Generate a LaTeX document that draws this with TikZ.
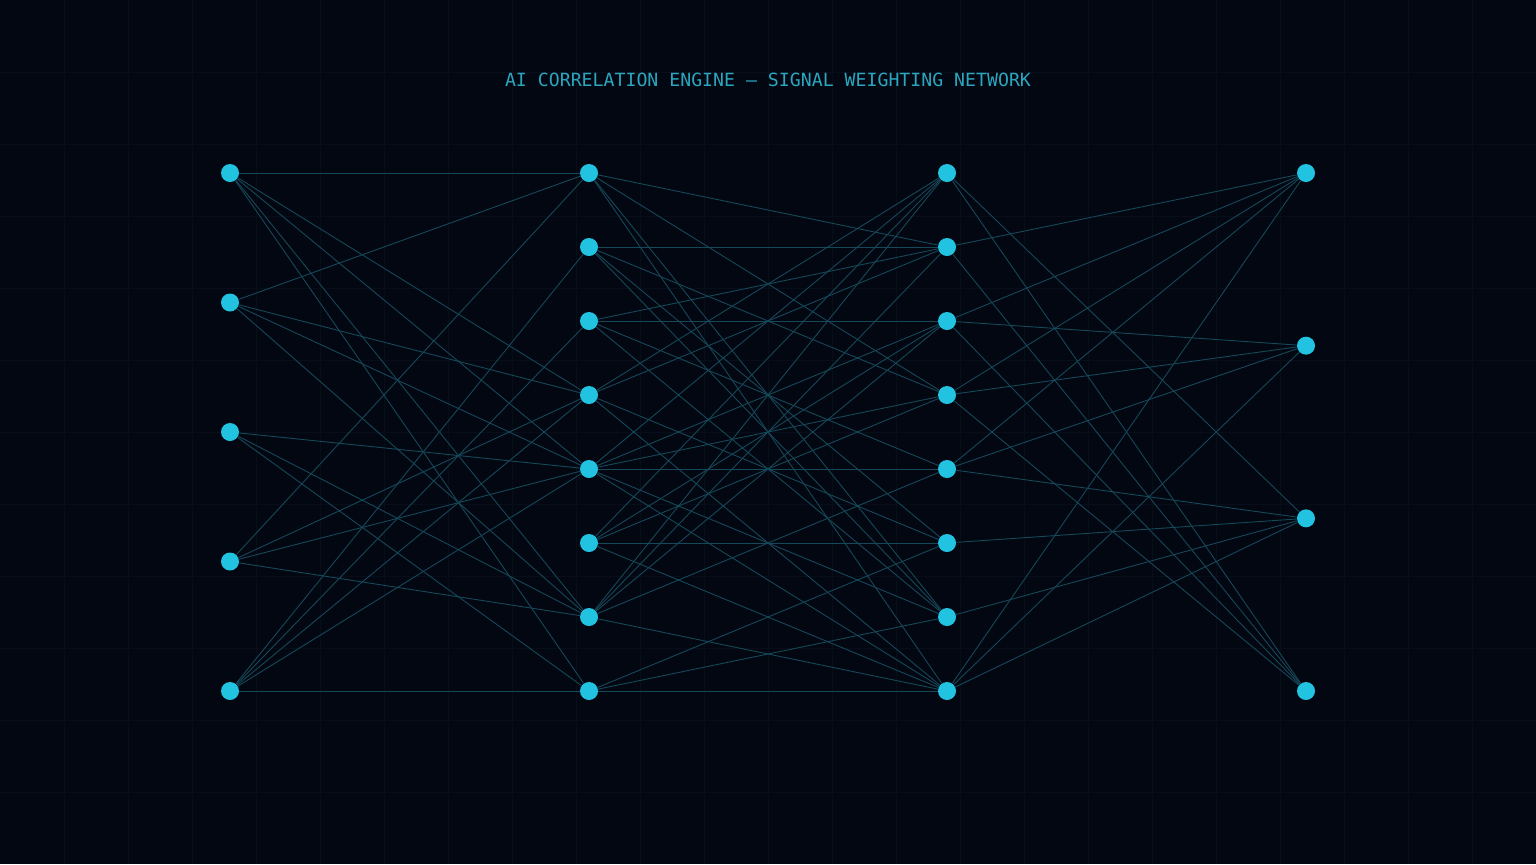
\documentclass[tikz,border=0pt]{standalone}
\usepackage{fontspec}
\setmonofont{DejaVu Sans Mono}

\definecolor{bgnavy}{HTML}{030711}
\definecolor{gridnavy}{HTML}{070D19}
\definecolor{neuroncyan}{HTML}{22C3E0}
\definecolor{wireteal}{HTML}{154859}
\definecolor{titlecyan}{HTML}{2AA6BF}

\tikzset{
	neuron/.style = {circle, fill=neuroncyan, minimum size=9pt, inner sep=0pt},
	wire/.style = {draw=wireteal, line width=0.45pt},
	gridline/.style = {draw=gridnavy, line width=0.5pt},
	heading/.style = {text=titlecyan, font=\ttfamily\fontsize{9.1}{11}\selectfont}
}

\begin{document}
\begin{tikzpicture}[x=0.5pt, y=-0.5pt]
% backdrop and faint grid
\fill[bgnavy] (0, 0) rectangle (1536, 864);
\useasboundingbox (0, 0) rectangle (1536, 864);
\foreach \gx in {64, 128, ..., 1472}
	\draw[gridline] (\gx, 0) -- (\gx, 864);
\foreach \gy in {72, 144, ..., 792}
	\draw[gridline] (0, \gy) -- (1536, \gy);

\node[heading] (title) at (768, 80) {AI CORRELATION ENGINE — SIGNAL WEIGHTING NETWORK};

% layers
\foreach \i in {1,...,5}
	\node[neuron] (a\i) at (230, {173 + 129.5*(\i-1)}) {};
\foreach \i in {1,...,8}
	\node[neuron] (b\i) at (589, {173 + 74*(\i-1)}) {};
\foreach \i in {1,...,8}
	\node[neuron] (c\i) at (947, {173 + 74*(\i-1)}) {};
\foreach \i in {1,...,4}
	\node[neuron] (d\i) at (1306, {173 + 172.67*(\i-1)}) {};

% weights, input -> first hidden
\foreach \s/\t in {1/1, 1/4, 1/5, 1/7, 1/8,
		2/1, 2/4, 2/5, 2/7,
		3/5, 3/7, 3/8,
		4/1, 4/4, 4/5, 4/7,
		5/2, 5/3, 5/4, 5/5, 5/8}
	\draw[wire] (a\s) -- (b\t);

% first hidden -> second hidden
\foreach \s/\t in {1/2, 1/4, 1/7, 1/8,
		2/2, 2/4, 2/6, 2/7,
		3/2, 3/3, 3/5, 3/7,
		4/1, 4/2, 4/6, 4/8,
		5/1, 5/3, 5/4, 5/5, 5/7, 5/8,
		6/1, 6/3, 6/4, 6/6, 6/8,
		7/1, 7/2, 7/3, 7/5, 7/8,
		8/6, 8/7, 8/8}
	\draw[wire] (b\s) -- (c\t);

% second hidden -> output
\foreach \s/\t in {1/3, 1/4,
		2/1, 2/4,
		3/1, 3/2, 3/4,
		4/1, 4/2, 4/4,
		5/1, 5/2, 5/3,
		6/3,
		7/3,
		8/1, 8/2, 8/3}
	\draw[wire] (c\s) -- (d\t);
\end{tikzpicture}
\end{document}
